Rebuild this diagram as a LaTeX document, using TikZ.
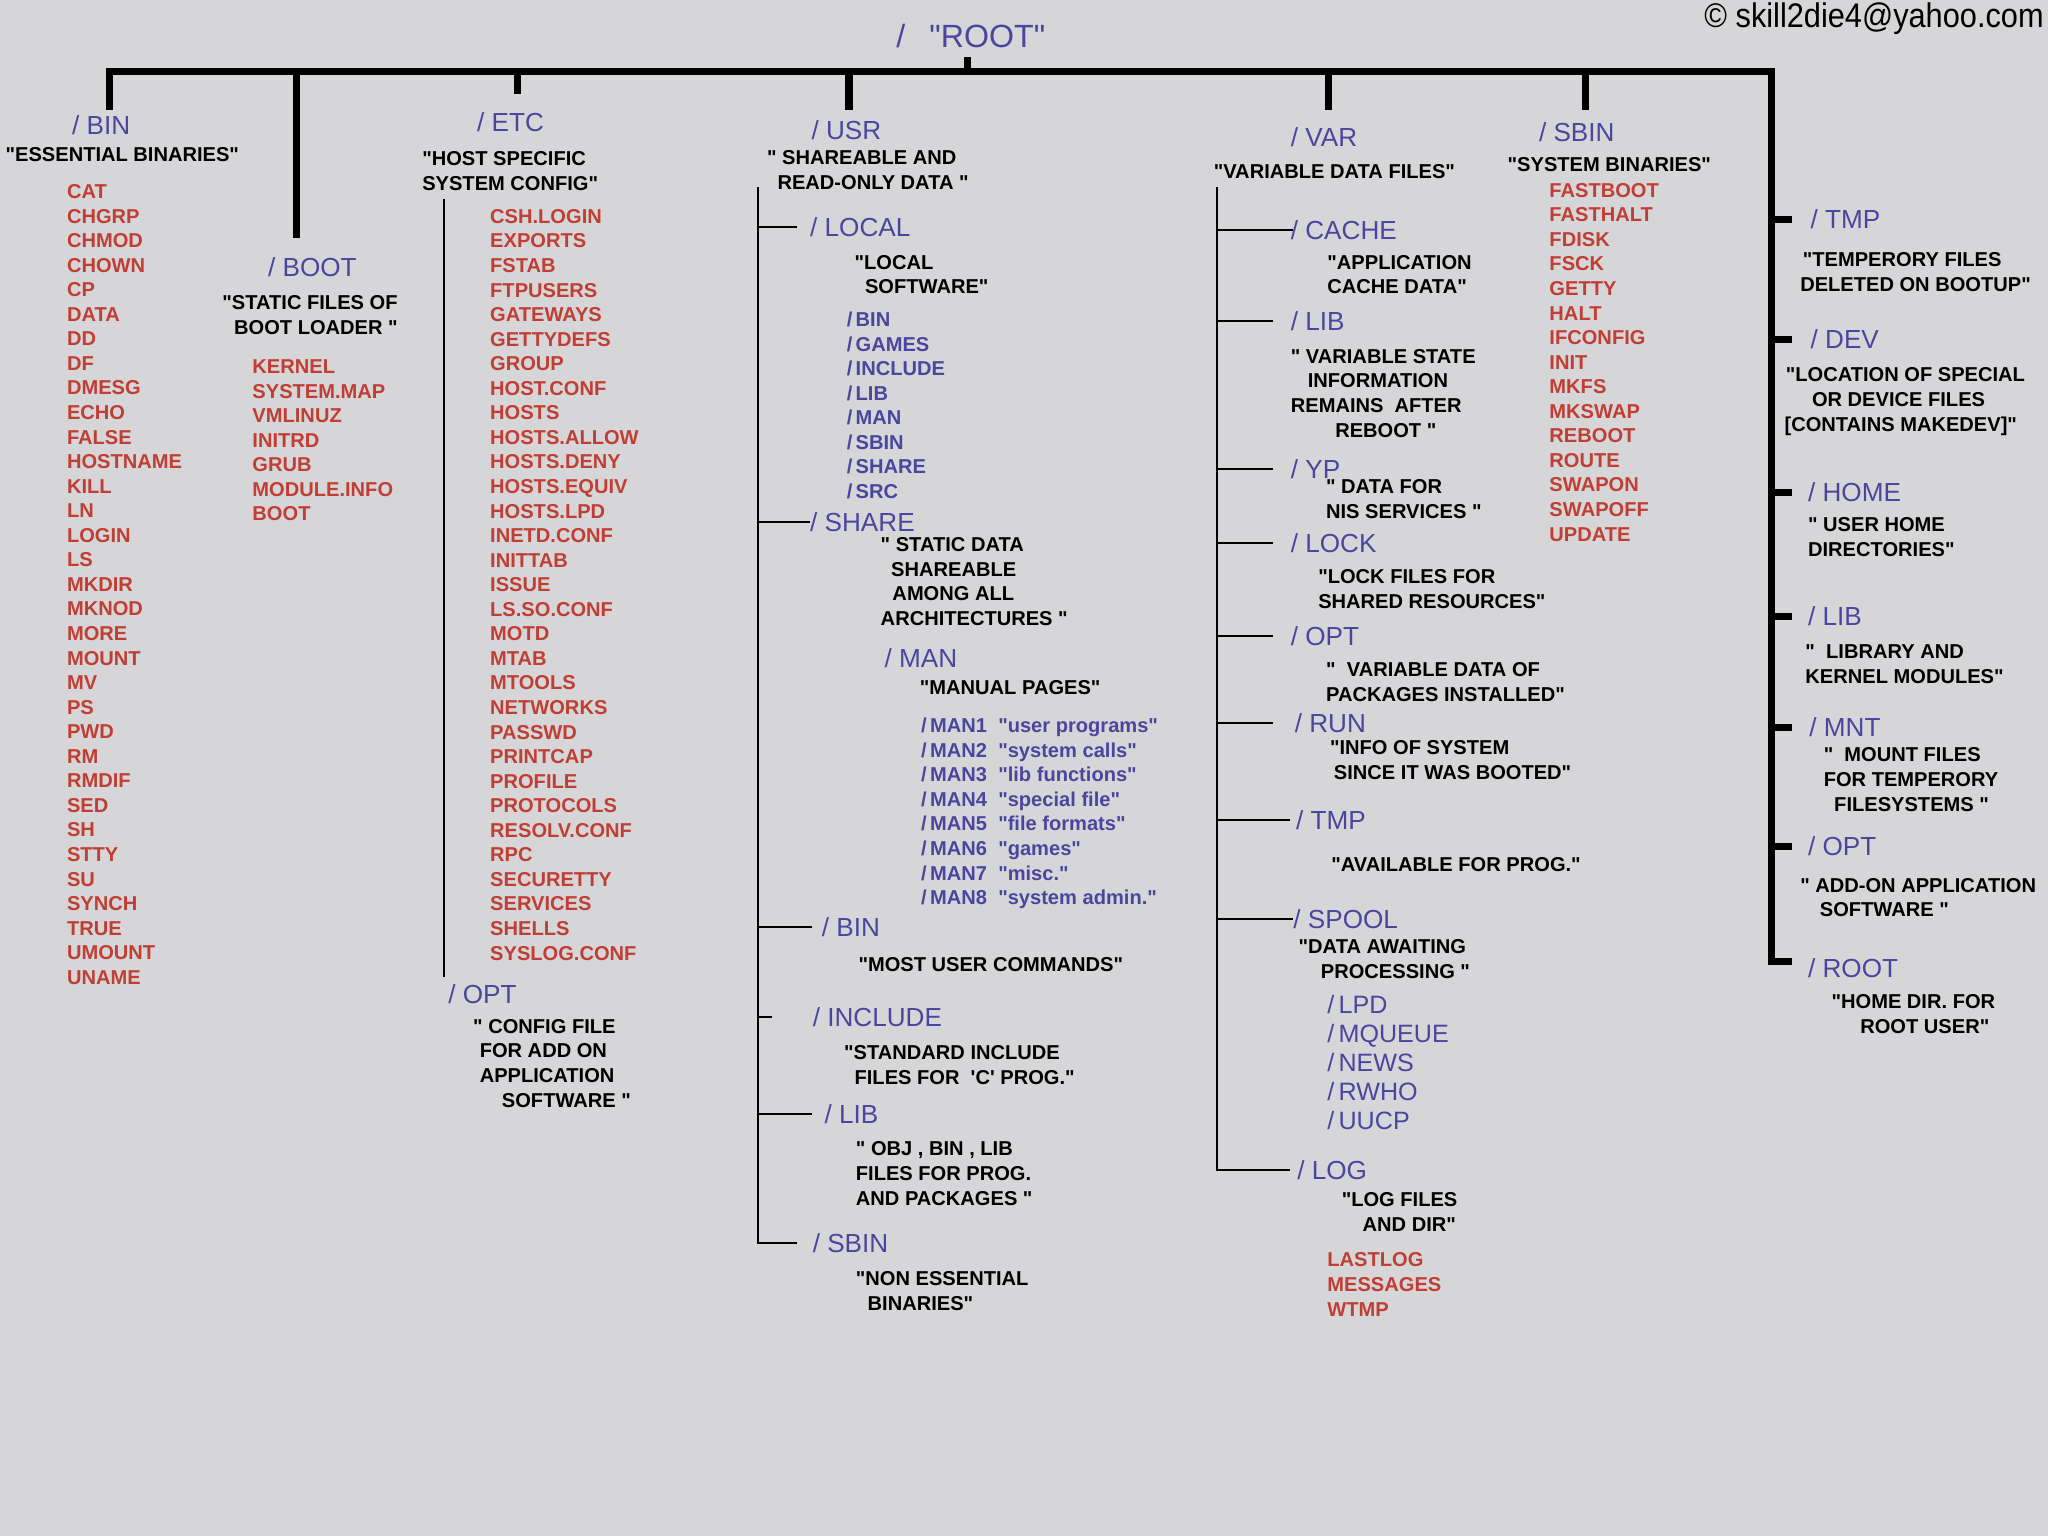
\documentclass[tikz,border=0pt]{standalone}
\usepackage{fontspec}
\setmainfont{Liberation Sans}[Ligatures=TeXOff]
\definecolor{dirblue}{RGB}{74,70,158}
\definecolor{filered}{RGB}{192,62,52}
\definecolor{bgcol}{RGB}{214,214,216}
\tikzset{
  ttl/.style={font=\fontsize{13}{15}\selectfont, text=dirblue, inner sep=0pt, anchor=base west},
  dsc/.style={font=\bfseries\fontsize{10}{12}\selectfont, text=black, inner sep=0pt, anchor=base west},
  itm/.style={font=\bfseries\fontsize{10}{12}\selectfont, text=filered, inner sep=0pt, anchor=base west},
  subb/.style={font=\bfseries\fontsize{10}{12}\selectfont, text=dirblue, inner sep=0pt, anchor=base west},
  subr/.style={font=\fontsize{12.5}{14}\selectfont, text=dirblue, inner sep=0pt, anchor=base west},
  bar/.style={line width=3.6pt, line join=miter, draw=black},
  tline/.style={line width=1pt, draw=black}
}
\newcommand\dl[4]{\node[dsc] (#1) at (#2,#3) {#4};}
\begin{document}
\begin{tikzpicture}[x=0.65pt,y=-0.65pt]
\useasboundingbox (0,0) rectangle (1568,1176);
\fill[bgcol] (0,0) rectangle (1568,1176);

% top
\node[font=\fontsize{16}{18}\selectfont, text=dirblue, inner sep=0pt, anchor=base west] (root) at (686,36) {/\hspace{12pt}"ROOT"};
\node[font=\fontsize{17}{19}\selectfont, inner sep=0pt, anchor=base east] (copy) at (1565,21) {\scalebox{0.9}[1]{\textcopyright{} skill2die4@yahoo.com}};

% coordinates of the main bar
\coordinate (rootStub) at (741,44);
\coordinate (barL) at (84,55);
\coordinate (barR) at (1356,55);
\coordinate (binEnd) at (84,84);
\coordinate (rBot) at (1356,736);
\coordinate (rBotEnd) at (1372,736);
\coordinate (bootTop) at (227,55);  \coordinate (bootEnd) at (227,182);
\coordinate (etcTop) at (396,55);   \coordinate (etcEnd) at (396,72);
\coordinate (usrTop) at (650,55);   \coordinate (usrEnd) at (650,84);
\coordinate (varTop) at (1017,55);  \coordinate (varEnd) at (1017,84);
\coordinate (sbinTop) at (1214,55); \coordinate (sbinEnd) at (1214,84);
\coordinate (rootBar) at (741,55);

\draw[bar] (binEnd) -- (barL) -- (barR) -- (rBot) -- (rBotEnd);
\draw[bar] (rootStub) -- (rootBar);
\draw[bar] (bootTop) -- (bootEnd);
\draw[bar] (etcTop) -- (etcEnd);
\draw[bar] (usrTop) -- (usrEnd);
\draw[bar] (varTop) -- (varEnd);
\draw[bar] (sbinTop) -- (sbinEnd);

% ---------------- /BIN
\node[ttl] (bin) at (55,103) {/ BIN};
\dl{bind1}{4}{124}{"ESSENTIAL BINARIES"}
\foreach \t [count=\i] in {CAT,CHGRP,CHMOD,CHOWN,CP,DATA,DD,DF,DMESG,ECHO,FALSE,HOSTNAME,KILL,LN,LOGIN,LS,MKDIR,MKNOD,MORE,MOUNT,MV,PS,PWD,RM,RMDIF,SED,SH,STTY,SU,SYNCH,TRUE,UMOUNT,UNAME}
  \node[itm] (binf-\i) at (51,{152+(\i-1)*18.8}) {\t};

% ---------------- /BOOT
\node[ttl] (boot) at (205,212) {/ BOOT};
\dl{bootd1}{170}{237}{"STATIC FILES OF}
\dl{bootd2}{179}{256}{BOOT LOADER "}
\foreach \t [count=\i] in {KERNEL,SYSTEM.MAP,VMLINUZ,INITRD,GRUB,MODULE.INFO,BOOT}
  \node[itm] (bootf-\i) at (193,{286+(\i-1)*18.8}) {\t};

% ---------------- /ETC
\node[ttl] (etc) at (365,101) {/ ETC};
\dl{etcd1}{323}{127}{"HOST SPECIFIC}
\dl{etcd2}{323}{146}{SYSTEM CONFIG"}
\foreach \t [count=\i] in {CSH.LOGIN,EXPORTS,FSTAB,FTPUSERS,GATEWAYS,GETTYDEFS,GROUP,HOST.CONF,HOSTS,HOSTS.ALLOW,HOSTS.DENY,HOSTS.EQUIV,HOSTS.LPD,INETD.CONF,INITTAB,ISSUE,LS.SO.CONF,MOTD,MTAB,MTOOLS,NETWORKS,PASSWD,PRINTCAP,PROFILE,PROTOCOLS,RESOLV.CONF,RPC,SECURETTY,SERVICES,SHELLS,SYSLOG.CONF}
  \node[itm] (etcf-\i) at (375,{171+(\i-1)*18.8}) {\t};
\coordinate (etcLTop) at (340,152);
\coordinate (etcLBot) at (340,748);
\draw[tline] (etcLTop) -- (etcLBot);
\node[ttl] (etcopt) at (343,768) {/ OPT};
\dl{etcoptd1}{362}{791}{" CONFIG FILE}
\dl{etcoptd2}{367}{810}{FOR ADD ON}
\dl{etcoptd3}{367}{829}{APPLICATION}
\dl{etcoptd4}{384}{848}{SOFTWARE "}

% ---------------- /USR
\node[ttl] (usr) at (621,107) {/ USR};
\dl{usrd1}{587}{126}{" SHAREABLE AND}
\dl{usrd2}{595}{145}{READ-ONLY DATA "}
\node[ttl] (ulocal) at (620,181) {/ LOCAL};
\dl{ulocald1}{654}{206}{"LOCAL}
\dl{ulocald2}{662}{225}{SOFTWARE"}
\foreach \t [count=\i] in {BIN,GAMES,INCLUDE,LIB,MAN,SBIN,SHARE,SRC}
  \node[subb] (ulocf-\i) at (648,{250+(\i-1)*18.8}) {/\,\t};
\node[ttl] (ushare) at (620,407) {/ SHARE};
\dl{ushared1}{674}{422}{" STATIC DATA}
\dl{ushared2}{682}{441}{SHAREABLE}
\dl{ushared3}{683}{460}{AMONG ALL}
\dl{ushared4}{674}{479}{ARCHITECTURES "}
\node[ttl] (uman) at (677,511) {/ MAN};
\dl{umand1}{704}{532}{"MANUAL PAGES"}
\foreach \t [count=\i] in {MAN1 \ "user programs",MAN2 \ "system calls",MAN3 \ "lib functions",MAN4 \ "special file",MAN5 \ "file formats",MAN6 \ "games",MAN7 \ "misc.",MAN8 \ "system admin."}
  \node[subb] (umanf-\i) at (705,{561+(\i-1)*18.8}) {/\,\t};
\node[ttl] (ubin) at (629,717) {/ BIN};
\dl{ubind1}{657}{744}{"MOST USER COMMANDS"}
\node[ttl] (uinc) at (622,786) {/ INCLUDE};
\dl{uincd1}{646}{811}{"STANDARD INCLUDE}
\dl{uincd2}{654}{830}{FILES FOR \ 'C' PROG."}
\node[ttl] (ulib) at (631,860) {/ LIB};
\dl{ulibd1}{655}{885}{" OBJ , BIN , LIB}
\dl{ulibd2}{655}{904}{FILES FOR PROG.}
\dl{ulibd3}{655}{923}{AND PACKAGES "}
\node[ttl] (usbin) at (622,959) {/ SBIN};
\dl{usbind1}{655}{984}{"NON ESSENTIAL}
\dl{usbind2}{664}{1003}{BINARIES"}

\coordinate (uL) at (580,143);
\draw[tline] (uL) -- (uL |- usbin.west) -- ++(30,0);
\draw[tline] (uL |- ulocal.west) -- ++(30,0);
\draw[tline] (uL |- ushare.west) -- ++(40,0);
\draw[tline] (uL |- ubin.west) -- ++(42,0);
\draw[tline] (uL |- uinc.west) -- ++(11,0);
\draw[tline] (uL |- ulib.west) -- ++(42,0);

% ---------------- /VAR
\node[ttl] (var) at (988,112) {/ VAR};
\dl{vard1}{929}{137}{"VARIABLE DATA FILES"}
\node[ttl] (vcache) at (988,183) {/ CACHE};
\dl{vcached1}{1016}{206}{"APPLICATION}
\dl{vcached2}{1016}{225}{CACHE DATA"}
\node[ttl] (vlib) at (988,253) {/ LIB};
\dl{vlibd1}{988}{278}{" VARIABLE STATE}
\dl{vlibd2}{1001}{297}{INFORMATION}
\dl{vlibd3}{988}{316}{REMAINS \ AFTER}
\dl{vlibd4}{1022}{335}{REBOOT "}
\node[ttl] (vyp) at (988,366) {/ YP};
\dl{vypd1}{1015}{378}{" DATA FOR}
\dl{vypd2}{1015}{397}{NIS SERVICES "}
\node[ttl] (vlock) at (988,423) {/ LOCK};
\dl{vlockd1}{1009}{447}{"LOCK FILES FOR}
\dl{vlockd2}{1009}{466}{SHARED RESOURCES"}
\node[ttl] (vopt) at (988,494) {/ OPT};
\dl{voptd1}{1015}{518}{" \ VARIABLE DATA OF}
\dl{voptd2}{1015}{537}{PACKAGES INSTALLED"}
\node[ttl] (vrun) at (991,561) {/ RUN};
\dl{vrund1}{1018}{578}{"INFO OF SYSTEM}
\dl{vrund2}{1021}{597}{SINCE IT WAS BOOTED"}
\node[ttl] (vtmp) at (992,635) {/ TMP};
\dl{vtmpd1}{1019}{667}{"AVAILABLE FOR PROG."}
\node[ttl] (vspool) at (990,711) {/ SPOOL};
\dl{vspoold1}{994}{730}{"DATA AWAITING}
\dl{vspoold2}{1011}{749}{PROCESSING "}
\foreach \t [count=\i] in {LPD,MQUEUE,NEWS,RWHO,UUCP}
  \node[subr] (vspf-\i) at (1016,{776+(\i-1)*22.2}) {/\,\t};
\node[ttl] (vlog) at (993,903) {/ LOG};
\dl{vlogd1}{1027}{924}{"LOG FILES}
\dl{vlogd2}{1043}{943}{AND DIR"}
\foreach \t [count=\i] in {LASTLOG,MESSAGES,WTMP}
  \node[itm] (vlogf-\i) at (1016,{970+(\i-1)*19}) {\t};

\coordinate (vL) at (932,143);
\draw[tline] (vL) -- (vL |- vlog.west) -- ++(56,0);
\draw[tline] (vL |- vcache.west) -- ++(58,0);
\draw[tline] (vL |- vlib.west) -- ++(43,0);
\draw[tline] (vL |- vyp.west) -- ++(43,0);
\draw[tline] (vL |- vlock.west) -- ++(43,0);
\draw[tline] (vL |- vopt.west) -- ++(43,0);
\draw[tline] (vL |- vrun.west) -- ++(43,0);
\draw[tline] (vL |- vtmp.west) -- ++(56,0);
\draw[tline] (vL |- vspool.west) -- ++(58,0);

% ---------------- /SBIN
\node[ttl] (sbin) at (1178,108) {/ SBIN};
\dl{sbind1}{1154}{131}{"SYSTEM BINARIES"}
\foreach \t [count=\i] in {FASTBOOT,FASTHALT,FDISK,FSCK,GETTY,HALT,IFCONFIG,INIT,MKFS,MKSWAP,REBOOT,ROUTE,SWAPON,SWAPOFF,UPDATE}
  \node[itm] (sbinf-\i) at (1186,{151+(\i-1)*18.8}) {\t};

% ---------------- right column
\node[ttl] (rtmp) at (1386,175) {/ TMP};
\dl{rtmpd1}{1380}{204}{"TEMPERORY FILES}
\dl{rtmpd2}{1378}{223}{DELETED ON BOOTUP"}
\node[ttl] (rdev) at (1386,267) {/ DEV};
\dl{rdevd1}{1367}{292}{"LOCATION OF SPECIAL}
\dl{rdevd2}{1387}{311}{OR DEVICE FILES}
\dl{rdevd3}{1366}{330}{[CONTAINS MAKEDEV]"}
\node[ttl] (rhome) at (1384,384) {/ HOME};
\dl{rhomed1}{1384}{407}{" USER HOME}
\dl{rhomed2}{1384}{426}{DIRECTORIES"}
\node[ttl] (rlib) at (1384,479) {/ LIB};
\dl{rlibd1}{1382}{504}{" \ LIBRARY AND}
\dl{rlibd2}{1382}{523}{KERNEL MODULES"}
\node[ttl] (rmnt) at (1385,564) {/ MNT};
\dl{rmntd1}{1396}{583}{" \ MOUNT FILES}
\dl{rmntd2}{1396}{602}{FOR TEMPERORY}
\dl{rmntd3}{1404}{621}{FILESYSTEMS "}
\node[ttl] (ropt) at (1384,655) {/ OPT};
\dl{roptd1}{1378}{683}{" ADD-ON APPLICATION}
\dl{roptd2}{1393}{702}{SOFTWARE "}
\node[ttl] (rroot) at (1384,748) {/ ROOT};
\dl{rrootd1}{1402}{772}{"HOME DIR. FOR}
\dl{rrootd2}{1424}{791}{ROOT USER"}

\foreach \n in {rtmp,rdev,rhome,rlib,rmnt,ropt}
  \draw[bar] (rBot |- \n.west) -- ++(16,0);
\end{tikzpicture}
\end{document}
